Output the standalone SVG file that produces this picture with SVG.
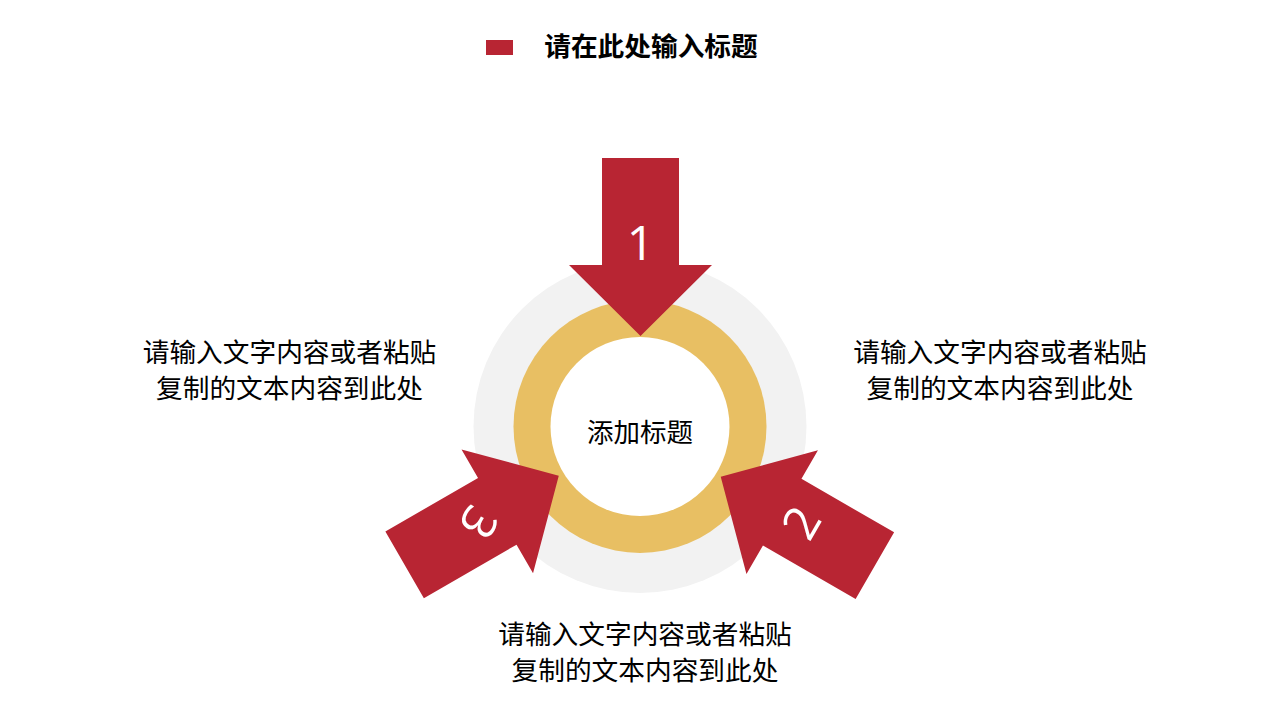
<svg xmlns="http://www.w3.org/2000/svg" width="1280" height="720" viewBox="0 0 1280 720">
<style>
.cjk{font-family:"Microsoft YaHei","Noto Sans CJK SC",sans-serif;fill:#000;text-anchor:middle}
.body{font-size:26.7px}
.num{font-family:"Open Sans","Liberation Sans",sans-serif;font-size:48px;fill:#fff;text-anchor:middle}
.arrow{fill:#B82533}
</style>
<defs>
<path id="arr" d="M602,158 H679 V265 H712 L640.5,336 L569,265 H602 Z"/>
</defs>
<rect width="1280" height="720" fill="#fff"/>
<g id="title">
<rect x="486" y="40" width="27" height="15" fill="#B82533"/>
<text class="cjk" x="651" y="56" style="font-size:26.7px;font-weight:bold">请在此处输入标题</text>
</g>
<g id="center">
<circle cx="640" cy="426.5" r="166.5" fill="#F2F2F2"/>
<circle cx="640" cy="426.5" r="126.5" fill="#E8BF63"/>
<circle cx="640" cy="426.5" r="89.5" fill="#fff"/>
<text class="cjk" x="640" y="442" style="font-size:26.5px">添加标题</text>
</g>
<g id="connectors">
<g id="arrow1">
<use href="#arr" class="arrow"/>
<text class="num" x="640.5" y="260">1</text>
</g>
<g id="arrow2">
<use href="#arr" class="arrow" transform="rotate(120 640 429.5)"/>
<text class="num" transform="translate(801.5 522.5) rotate(-60)" x="0" y="17">2</text>
</g>
<g id="arrow3">
<use href="#arr" class="arrow" transform="rotate(240 640 429.5)"/>
<text class="num" transform="translate(478.5 522.5) rotate(120)" x="0" y="17">3</text>
</g>
</g>
<g id="text-left">
<text class="cjk body" x="289.5" y="362">请输入文字内容或者粘贴</text>
<text class="cjk body" x="289.5" y="398">复制的文本内容到此处</text>
</g>
<g id="text-right">
<text class="cjk body" x="1000" y="362">请输入文字内容或者粘贴</text>
<text class="cjk body" x="1000" y="398">复制的文本内容到此处</text>
</g>
<g id="text-bottom">
<text class="cjk body" x="645" y="644">请输入文字内容或者粘贴</text>
<text class="cjk body" x="645" y="680">复制的文本内容到此处</text>
</g>
</svg>
